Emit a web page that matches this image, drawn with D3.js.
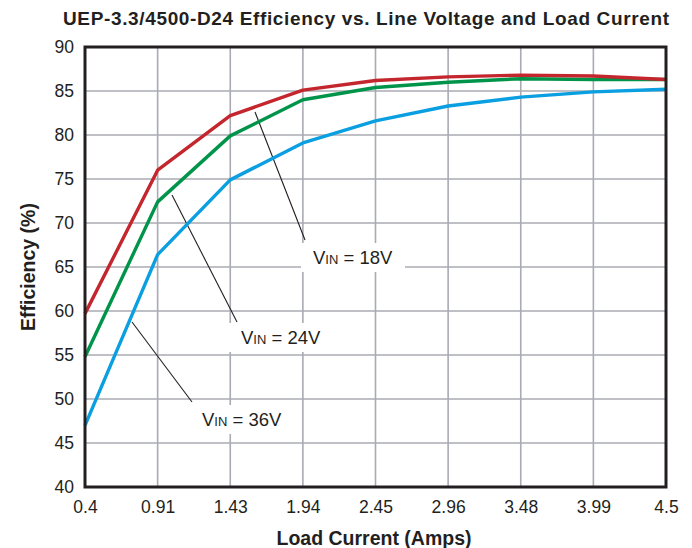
<!DOCTYPE html>
<html><head><meta charset="utf-8">
<script src="https://cdn.jsdelivr.net/npm/d3@7"></script>
<style>body{margin:0;background:#fff}svg{display:block}</style>
</head><body>
<script>
const xLabels = ["0.4","0.91","1.43","1.94","2.45","2.96","3.48","3.99","4.5"];
const yTicks = [40,45,50,55,60,65,70,75,80,85,90];
const eff18 = [59.7,76.0,82.2,85.1,86.2,86.6,86.8,86.7,86.3];
const eff24 = [54.8,72.4,79.9,84.0,85.4,86.0,86.4,86.3,86.3];
const eff36 = [47.0,66.4,74.9,79.1,81.6,83.3,84.3,84.9,85.2];
const seriesNames = ["18V","24V","36V"];
const title = "UEP-3.3/4500-D24 Efficiency vs. Line Voltage and Load Current";

const W=692,H=548, L=85,R=666,T=47,B=487;
const svg=d3.select("body").append("svg").attr("width",W).attr("height",H);
const x=d3.scalePoint().domain(xLabels).range([L,R]);
const y=d3.scaleLinear().domain([40,90]).range([B,T]);
const narrow="'Liberation Sans Narrow','Arial Narrow',sans-serif";
const sans="'Liberation Sans',Arial,sans-serif";

// grid
const g=svg.append("g");
g.selectAll(".vg").data(xLabels.slice(1,-1)).join("line")
 .attr("x1",d=>x(d)).attr("x2",d=>x(d)).attr("y1",T).attr("y2",B)
 .attr("stroke","#a9abb3").attr("stroke-width",1.6);
g.selectAll(".hg").data(yTicks.slice(1,-1)).join("line")
 .attr("x1",L).attr("x2",R).attr("y1",d=>y(d)).attr("y2",d=>y(d))
 .attr("stroke","#a9abb3").attr("stroke-width",1.6);

// axes (labels via d3 axes)
const yAxis=svg.append("g").attr("transform",`translate(${L},0)`)
 .call(d3.axisLeft(y).tickValues(yTicks).tickSize(0).tickPadding(11));
const xAxis=svg.append("g").attr("transform",`translate(0,${B})`)
 .call(d3.axisBottom(x).tickSize(0).tickPadding(14));
[yAxis,xAxis].forEach(a=>{a.select(".domain").remove();
 a.selectAll("text").attr("font-family",narrow).attr("font-size",17.5).attr("fill","#231f20");});

// label boxes and text
const labels=[
 {name:seriesNames[0], lx:313, ly:264, line:[[255,112],[305,240]]},
 {name:seriesNames[1], lx:241, ly:344, line:[[172,195],[237,322]]},
 {name:seriesNames[2], lx:202, ly:426, line:[[132,322],[192,402]]}
];
labels.forEach(d=>{
 const t=svg.append("text").attr("x",d.lx).attr("y",d.ly).attr("font-family",sans).attr("font-size",18.5).attr("fill","#231f20");
 t.append("tspan").text("V");
 t.append("tspan").attr("font-size",13).text("IN");
 t.append("tspan").text(" = "+d.name);
 const bb=t.node().getBBox();
 svg.insert("rect",()=>t.node()).attr("x",bb.x-12).attr("y",bb.y-4).attr("width",bb.width+24).attr("height",bb.height+8).attr("fill","#fff");
 svg.append("line").attr("x1",d.line[0][0]).attr("y1",d.line[0][1]).attr("x2",d.line[1][0]).attr("y2",d.line[1][1])
  .attr("stroke","#231f20").attr("stroke-width",1.1);
});

// series
const line=d3.line().x((d,i)=>x(xLabels[i])).y(d=>y(d));
[[eff36,"#0a9fe0"],[eff24,"#00944a"],[eff18,"#c4262e"]].forEach(([s,c])=>{
 svg.append("path").attr("d",line(s)).attr("fill","none").attr("stroke",c).attr("stroke-width",3.4).attr("stroke-linejoin","round");
});

// frame
svg.append("rect").attr("x",L).attr("y",T).attr("width",R-L).attr("height",B-T).attr("fill","none").attr("stroke","#231f20").attr("stroke-width",3);

svg.append("text").attr("x",366).attr("y",25).attr("text-anchor","middle").attr("font-family",sans).attr("font-weight","bold").attr("font-size",19).attr("textLength",606).attr("lengthAdjust","spacing").attr("fill","#231f20").text(title);
svg.append("text").attr("x",374).attr("y",545).attr("text-anchor","middle").attr("font-family",sans).attr("font-weight","bold").attr("font-size",19.5).attr("fill","#231f20").text("Load Current (Amps)");
svg.append("text").attr("transform",`translate(35,${(T+B)/2}) rotate(-90)`).attr("text-anchor","middle").attr("font-family",sans).attr("font-weight","bold").attr("font-size",19.5).attr("fill","#231f20").text("Efficiency (%)");
</script>
</body></html>
